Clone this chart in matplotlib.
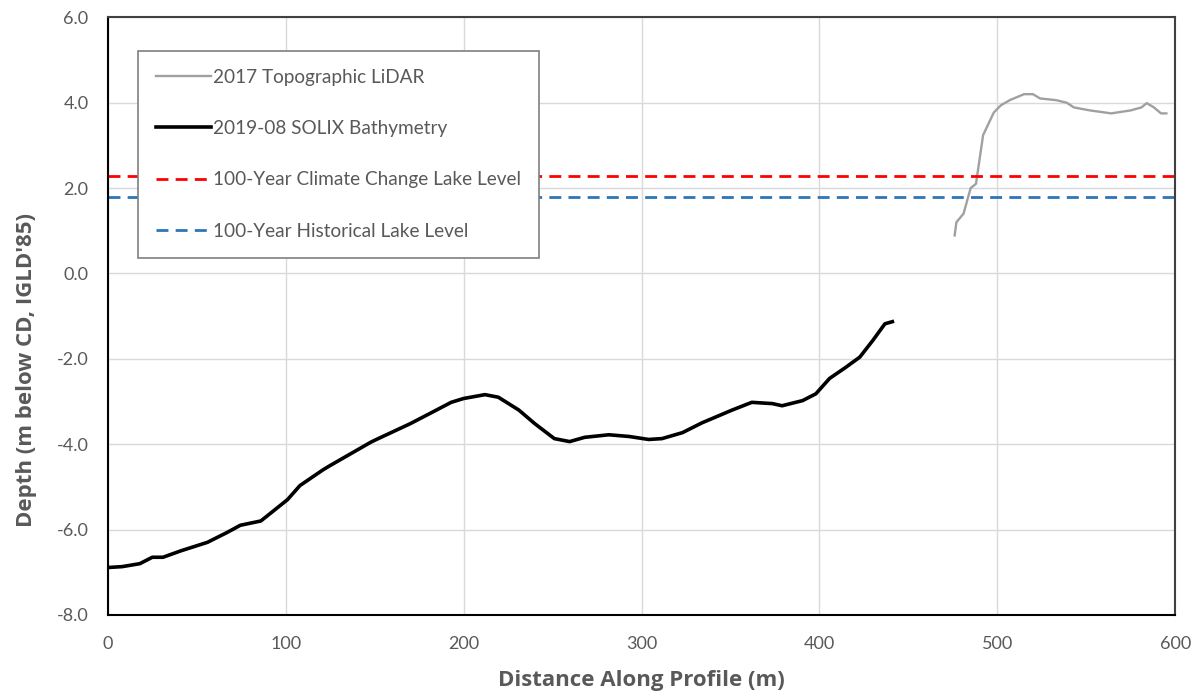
import numpy as np
import matplotlib
matplotlib.use("Agg")
import matplotlib.pyplot as plt

plt.rcParams['font.family'] = ['Lato', 'DejaVu Sans']

# 2019-08 SOLIX bathymetry (distance m, depth m)
bathy_x = [0, 8, 18, 25, 31, 41, 56, 67, 74.5, 86, 95, 101, 108, 121, 125, 148,
           152, 170, 182, 193, 200, 212, 219.5, 231, 240, 251, 259.6, 268, 281.6,
           293, 304, 311.5, 323, 334, 351, 362, 373.6, 379, 390.5, 398, 405.7,
           414.8, 422.7, 430, 436.8, 441]
bathy_y = [-6.89, -6.87, -6.8, -6.65, -6.65, -6.5, -6.3, -6.07, -5.9, -5.8, -5.5,
           -5.3, -4.97, -4.6, -4.5, -3.95, -3.87, -3.52, -3.26, -3.02, -2.93,
           -2.84, -2.9, -3.2, -3.52, -3.87, -3.94, -3.84, -3.78, -3.82, -3.89,
           -3.87, -3.73, -3.5, -3.2, -3.02, -3.05, -3.1, -2.98, -2.82, -2.46,
           -2.2, -1.96, -1.57, -1.18, -1.13]

# 2017 topographic LiDAR
lidar_x = [476, 477, 481, 485, 488, 492, 498, 502, 507, 515, 520, 524, 533, 539,
           543, 552, 564, 575, 581, 584, 588, 592, 595]
lidar_y = [0.89, 1.2, 1.4, 2.0, 2.1, 3.24, 3.77, 3.94, 4.06, 4.2, 4.2, 4.1, 4.06,
           4.0, 3.89, 3.82, 3.75, 3.82, 3.89, 3.99, 3.89, 3.75, 3.75]

climate_level = 2.28
historical_level = 1.80

fig = plt.figure(figsize=(11.98, 6.94), dpi=100)
ax = fig.add_axes([0.090, 0.114, 0.891, 0.861])

ax.plot(lidar_x, lidar_y, color='#a0a0a0', lw=1.7, label='2017 Topographic LiDAR')
ax.plot(bathy_x, bathy_y, color='black', lw=2.6, label='2019-08 SOLIX Bathymetry')
ax.axhline(climate_level, color='#ff0000', lw=2, ls=(0, (4.3, 2.6)),
           label='100-Year Climate Change Lake Level')
ax.axhline(historical_level, color='#2e75b6', lw=2, ls=(0, (4.3, 2.6)),
           label='100-Year Historical Lake Level')

ax.set_xlim(0, 600)
ax.set_ylim(-8, 6)
ax.set_xticks(np.arange(0, 601, 100))
ax.set_yticks(np.arange(-8, 6.1, 2))
ax.set_yticklabels([f"{v:.1f}" for v in np.arange(-8, 6.1, 2)])
ax.grid(True, color='#d9d9d9', lw=1)
ax.set_axisbelow(True)
ax.tick_params(length=0, labelsize=13, colors='#595959')
ax.tick_params(axis='y', pad=14)
ax.tick_params(axis='x', pad=15)
for s in ax.spines.values():
    s.set_color('#404040')
    s.set_linewidth(1.5)
ax.spines['left'].set_color('black')
ax.spines['bottom'].set_color('black')

ax.set_xlabel('Distance Along Profile (m)', fontsize=16, fontweight='bold',
              color='#595959', family=['Open Sans', 'DejaVu Sans'])
ax.set_ylabel("Depth (m below CD, IGLD'85)", fontsize=16, fontweight='bold',
              color='#595959', family=['Open Sans', 'DejaVu Sans'])
ax.xaxis.set_label_coords(0.5, -0.093)
ax.yaxis.set_label_coords(-0.066, 0.41)

leg = ax.legend(loc='upper left', bbox_to_anchor=(0.028, 0.944), fontsize=13.7,
                frameon=True, fancybox=False, edgecolor='#7f7f7f', framealpha=1,
                labelspacing=1.8, handlelength=2.9, handletextpad=0.1,
                borderpad=0.95, borderaxespad=0)
for t in leg.get_texts():
    t.set_color('#595959')
leg.get_frame().set_linewidth(1.2)

fig.savefig('out.png', dpi=100)
